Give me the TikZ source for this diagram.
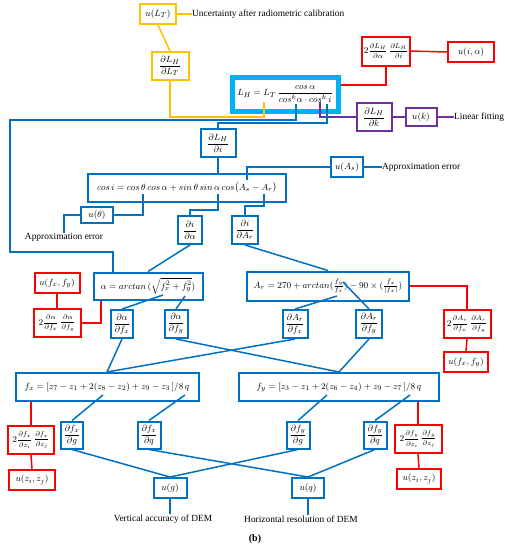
\documentclass[tikz,border=0pt]{standalone}
\usepackage{amsmath}
\usepackage{fontspec}
\setmainfont{Liberation Serif}
\definecolor{bblue}{RGB}{0,112,192}
\definecolor{cyanb}{RGB}{0,176,240}
\definecolor{yel}{RGB}{255,192,0}
\definecolor{purp}{RGB}{112,48,160}
\newcommand\smallfrac[2]{\vcenter{\hbox{\fontsize{7.2}{8}\selectfont$\dfrac{#1}{#2}$}}}
\begin{document}
\begin{tikzpicture}[x=1pt,y=-1pt,font=\fontsize{9.4}{11}\selectfont,
	bb/.style={draw=bblue,line width=2pt,inner sep=1.5pt,minimum height=20},
	rb/.style={draw=red,line width=2pt,inner sep=1.5pt,minimum height=20},
	yb/.style={draw=yel,line width=2pt,inner sep=1.5pt,minimum height=20},
	pb/.style={draw=purp,line width=2pt,inner sep=1.5pt,minimum height=18},
	fr/.style={minimum height=28},
	bl/.style={draw=bblue,line width=1.5pt},
	rl/.style={draw=red,line width=1.5pt},
	yl/.style={draw=yel,line width=1.5pt},
	pl/.style={draw=purp,line width=1.5pt}]
	\useasboundingbox(0,0)rectangle(505,550);
	% top part
	\node[yb,minimum width=36](uLT)at(158,14){$u(L_T)$};
	\node[anchor=west,inner sep=0pt](cal)at(192,14){Uncertainty after radiometric calibration};
	\node[yb,fr,minimum width=37](dLT)at(170,66){$\dfrac{\partial L_H}{\partial L_T}$};
	\node[draw=cyanb,line width=5pt,minimum width=106,minimum height=34,inner sep=1pt](LH)at(285,94){$L_H=L_T\,\dfrac{cos\,\alpha}{cos^k\alpha\cdot cos^k\,i}$};
	\node[rb,minimum width=48,minimum height=29](rLH)at(386,51){$2\smallfrac{\partial L_H}{\partial\alpha}\,\smallfrac{\partial L_H}{\partial i}$};
	\node[rb,minimum width=46](uia)at(471,52){$u(i,\alpha)$};
	\node[pb,fr,minimum width=35](dk)at(374,117){$\dfrac{\partial L_H}{\partial k}$};
	\node[pb,minimum width=31](uk)at(421,117){$u(k)$};
	\node[anchor=west,inner sep=0pt](lin)at(454,117){Linear fitting};
	\coordinate(cLT)at(264,102);
	\coordinate(cA)at(296,104);
	\coordinate(cK)at(320,102);
	\coordinate(cI)at(327,104);
	% cos i
	\node[bb,fr,minimum width=35](di)at(218,143){$\dfrac{\partial L_H}{\partial i}$};
	\node[bb,fr,minimum width=198](cosi)at(187,188){$cos\,i=cos\,\theta\,cos\,\alpha+sin\,\theta\,sin\,\alpha\,cos\bigl(A_s-A_r\bigr)$};
	\node[bb,minimum width=32](uAs)at(347,167){$u(A_s)$};
	\node[anchor=west,inner sep=0pt](ae1)at(382,167){Approximation error};
	\node[bb,minimum width=32,minimum height=16](uth)at(97,215){$u(\theta)$};
	\node[inner sep=0pt](ae2)at(64,237){Approximation error};
	\coordinate(cTh)at(143,194);
	\coordinate(cAl)at(218,194);
	\coordinate(cAs)at(247,180);
	\coordinate(cAr)at(264,194);
	\node[bb,fr,minimum width=24](dia)at(190,230){$\dfrac{\partial i}{\partial\alpha}$};
	\node[bb,fr,minimum width=26](diAr)at(245,230){$\dfrac{\partial i}{\partial A_r}$};
	% alpha and A_r
	\node[bb,minimum width=109,minimum height=27](alpha)at(148,286){$\alpha=arctan\,(\sqrt{f_x^2+f_y^2})$};
	\node[bb,minimum width=162,minimum height=29](Ar)at(328,286){$A_r=270+arctan(\frac{f_y}{f_x})-90\times(\frac{f_x}{|f_x|})$};
	\node[rb,minimum width=45](ufxy1)at(57,283){$u(f_x,f_y)$};
	\node[rb,fr,minimum width=47](ra)at(57,323){$2\smallfrac{\partial\alpha}{\partial f_x}\,\smallfrac{\partial\alpha}{\partial f_y}$};
	\node[bb,fr,minimum width=22](dafx)at(122,324){$\dfrac{\partial\alpha}{\partial f_x}$};
	\node[bb,fr,minimum width=23](dafy)at(176,324){$\dfrac{\partial\alpha}{\partial f_y}$};
	\node[bb,fr,minimum width=25](dArfx)at(295,324){$\dfrac{\partial A_r}{\partial f_x}$};
	\node[bb,fr,minimum width=26](dArfy)at(369,324){$\dfrac{\partial A_r}{\partial f_y}$};
	\node[rb,fr,minimum width=47](rAr)at(467,324){$2\smallfrac{\partial A_r}{\partial f_x}\,\smallfrac{\partial A_r}{\partial f_y}$};
	\node[rb,minimum width=44](ufxy2)at(466,362){$u(f_x,f_y)$};
	\coordinate(cfx2)at(163,295);
	\coordinate(cfy2)at(185,296);
	\coordinate(cAr1)at(337,296);
	\coordinate(cAr2)at(343,282);
	% f_x and f_y
	\node[bb,fr,minimum width=183](fx)at(107,387){$f_x=[z_7-z_1+2(z_8-z_2)+z_9-z_3\,]/8\,q$};
	\node[bb,fr,minimum width=200](fy)at(339,387){$f_y=[z_3-z_1+2(z_6-z_4)+z_9-z_7\,]/8\,q$};
	\coordinate(cfxg)at(103,395);
	\coordinate(cfxq)at(185,395);
	\coordinate(cfyg)at(327,395);
	\coordinate(cfyq)at(410,395);
	\node[rb,fr,minimum width=46](rfx)at(31,440){$2\smallfrac{\partial f_x}{\partial z_i}\,\smallfrac{\partial f_x}{\partial z_j}$};
	\node[rb,minimum width=46](uz1)at(32,480){$u(z_i,z_j)$};
	\node[bb,minimum width=22,minimum height=27](dfxg)at(72,435){$\dfrac{\partial f_x}{\partial g}$};
	\node[bb,minimum width=23,minimum height=27](dfxq)at(149,435){$\dfrac{\partial f_x}{\partial q}$};
	\node[bb,minimum width=23,minimum height=27](dfyg)at(298,435){$\dfrac{\partial f_y}{\partial g}$};
	\node[bb,minimum width=23,minimum height=27](dfyq)at(375,435){$\dfrac{\partial f_y}{\partial q}$};
	\node[rb,fr,minimum width=47](rfy)at(418,439){$2\smallfrac{\partial f_y}{\partial z_i}\,\smallfrac{\partial f_y}{\partial z_j}$};
	\node[rb,minimum width=44](uz2)at(419,479){$u(z_i,z_j)$};
	\node[bb,minimum width=33](ug)at(170,488){$u(g)$};
	\node[bb,minimum width=32](uq)at(308,488){$u(q)$};
	\node[inner sep=0pt](vert)at(163,519){Vertical accuracy of DEM};
	\node[inner sep=0pt](hor)at(301,519){Horizontal resolution of DEM};
	\node[font=\fontsize{10}{12}\selectfont\bfseries](b)at(255,539){(b)};
	% yellow and purple
	\draw[yl](uLT.east)--(cal.west);
	\draw[yl](uLT.south)--(dLT.north);
	\draw[yl](dLT.south)--++(0,36)-|(cLT);
	\draw[pl](cK)|-(dk.west);
	\draw[pl](dk.east)--(uk.west);
	\draw[pl](uk.east)--(lin.west);
	% red
	\draw[rl](rLH.south)|-([yshift=9pt]LH.east);
	\draw[rl](rLH.east)--(uia.west);
	\draw[rl](ufxy1.south)--(ra.north);
	\draw[rl](ra.east)-|([xshift=-47pt]alpha.south);
	\draw[rl](Ar.east)-|(rAr.north);
	\draw[rl](rAr.south)--(ufxy2.north);
	\draw[rl](rfx.north|-fx.south)--(rfx.north);
	\draw[rl](rfx.south)--(uz1.north);
	\draw[rl](rfy.north|-fy.south)--(rfy.north);
	\draw[rl](rfy.south)--(uz2.north);
	% blue
	\draw[bl](cA)--++(0,16)--++(-286,0)--++(0,132)-|([xshift=-35pt]alpha.north);
	\draw[bl](cI)--++(0,19)-|(di.north);
	\draw[bl](di.south)--(di.south|-cosi.north);
	\draw[bl](cAs)|-(uAs.west);
	\draw[bl](uAs.east)--(ae1.west);
	\draw[bl](cTh)|-(uth.east);
	\draw[bl](uth.west)-|(ae2.north);
	\draw[bl](cAl)--++(0,16)-|(dia.north);
	\draw[bl](cAr)--++(0,12)-|(diAr.north);
	\draw[bl](dia.south)--(alpha.north);
	\draw[bl](diAr.south)--(Ar.north);
	\draw[bl](cfx2)--(dafx.north);
	\draw[bl](cfy2)--(dafy.north);
	\draw[bl](cAr1)--(dArfx.north);
	\draw[bl](cAr2)--(dArfy.north);
	\draw[bl](dafx.south)--(fx.north);
	\draw[bl](dArfx.south)--(fx.north);
	\draw[bl](dafy.south)--(fy.north);
	\draw[bl](dArfy.south)--(fy.north);
	\draw[bl](cfxg)--(dfxg.north);
	\draw[bl](cfxq)--(dfxq.north);
	\draw[bl](cfyg)--(dfyg.north);
	\draw[bl](cfyq)--(dfyq.north);
	\draw[bl](dfxg.south)--(ug.north);
	\draw[bl](dfyg.south)--(ug.north);
	\draw[bl](dfxq.south)--(uq.north);
	\draw[bl](dfyq.south)--(uq.north);
	\draw[bl](ug.south)--(ug.south|-vert.north);
	\draw[bl](uq.south)--(uq.south|-hor.north);
\end{tikzpicture}
\end{document}
